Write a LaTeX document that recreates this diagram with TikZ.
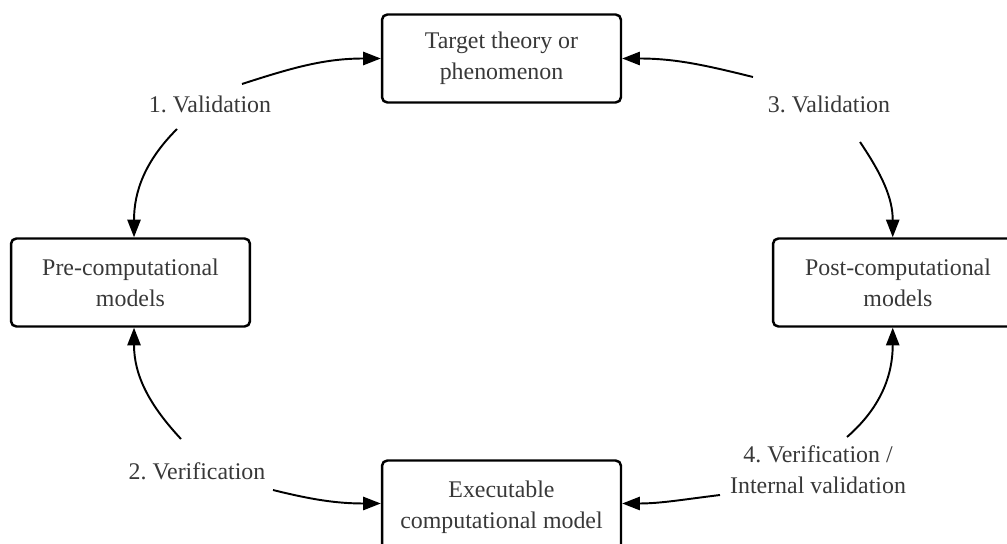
\documentclass[tikz,border=0pt]{standalone}
\usepackage{fontspec}
\setmainfont{Liberation Serif}
\usetikzlibrary{arrows.meta}
\frenchspacing
\begin{document}
\begin{tikzpicture}[x=0.02cm,y=0.02cm,>={Triangle[length=10pt,width=7.5pt]},
	box/.style={draw,line width=1.4pt,rounded corners=3pt,minimum width=4.78cm,minimum height=1.76cm,align=center,text=black!78,font=\fontsize{13.6}{17.6}\selectfont},
	lab/.style={align=center,text=black!78,font=\fontsize{13.6}{17.6}\selectfont},
	link/.style={->,line width=1.1pt}]
	\useasboundingbox (0,0) rectangle (1007,-544);
	% boxes
	\node[box] (target) at (501.5,-58.5) {Target theory or\\phenomenon};
	\node[box] (pre) at (130.5,-282.5) {Pre-computational\\models};
	\node[box,minimum width=5cm] (post) at (898,-282.5) {Post-computational\\models};
	\node[box,minimum height=1.86cm] (exec) at (501.5,-507) {Executable\\computational model};
	% labels
	\node[lab] (val1) at (210,-104) {1. Validation};
	\node[lab] (val3) at (829,-104) {3. Validation};
	\node[lab] (verif2) at (197,-471) {2. Verification};
	\node[lab] (verif4) at (818,-470) {4. Verification /\\Internal validation};
	% free ends next to the labels
	\coordinate (v1a) at (242,-84); \coordinate (v1b) at (177,-129);
	\coordinate (v3a) at (753,-77); \coordinate (v3b) at (860,-142);
	\coordinate (v2a) at (181,-439); \coordinate (v2b) at (273,-490);
	\coordinate (v4a) at (847,-437); \coordinate (v4b) at (720,-495);
	\draw[link] (v1a) to[out=18,in=180] (target.west);
	\draw[link] (v1b) to[out=225,in=90] ([xshift=2]pre.north);
	\draw[link] (v3a) to[out=166,in=0] (target.east);
	\draw[link] (v3b) to[out=-56,in=90] ([xshift=-3]post.north);
	\draw[link] (v2a) to[out=133,in=-90] ([xshift=2]pre.south);
	\draw[link] (v2b) to[out=-14,in=180] ([yshift=2]exec.west);
	\draw[link] (v4a) to[out=41,in=-90] ([xshift=-3]post.south);
	\draw[link] (v4b) to[out=187,in=0] ([yshift=2]exec.east);
\end{tikzpicture}
\end{document}
